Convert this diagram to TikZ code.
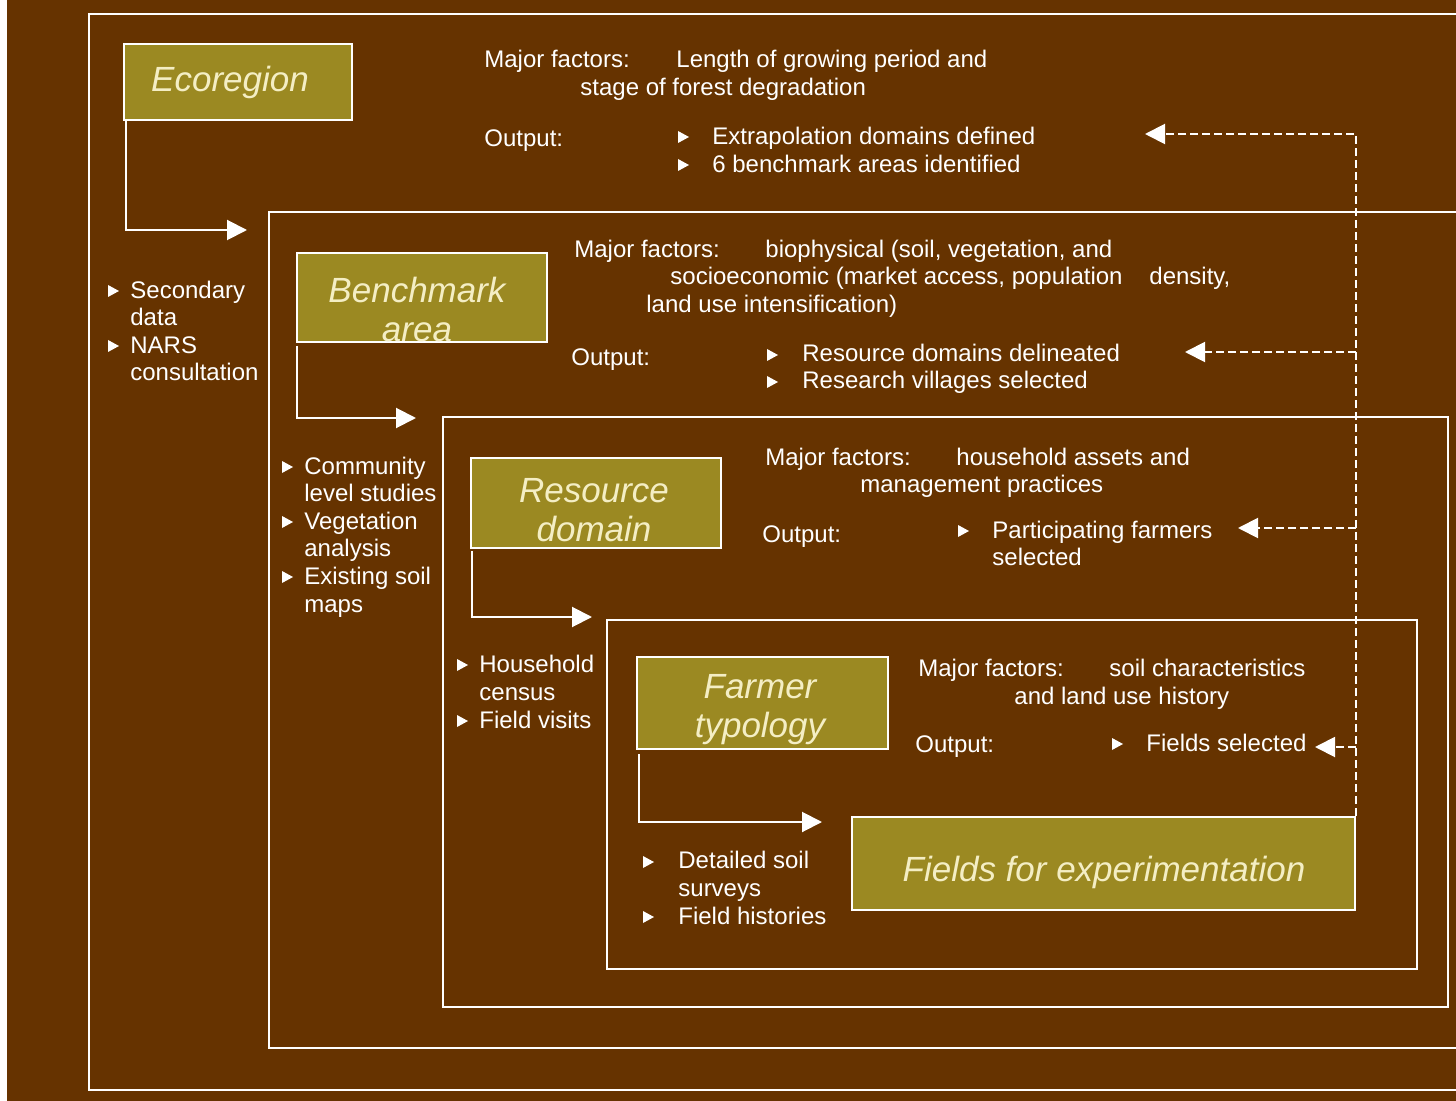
\documentclass[tikz,border=0pt]{standalone}
\usepackage{fontspec}
\setmainfont{Liberation Sans}
\usetikzlibrary{arrows.meta}
\definecolor{bgbrown}{RGB}{102,51,0}
\definecolor{olivebox}{RGB}{155,137,34}
\definecolor{cream}{RGB}{244,238,196}
\begin{document}
\begin{tikzpicture}[x=0.5pt,y=-0.5pt,
    frame/.style={draw=white, line width=1pt},
    stagebox/.style={draw=white, line width=1pt, fill=olivebox, inner sep=0pt},
    stagelabel/.style={text=cream, align=center, inner sep=0pt,
        font=\fontsize{17.5}{19.5}\selectfont\itshape},
    txt/.style={anchor=base west, text=white, inner sep=0pt,
        font=\fontsize{12}{14}\selectfont},
    flow/.style={draw=white, line width=1pt, -{Triangle[length=10pt,width=10pt]}},
    fback/.style={draw=white, line width=1pt, dash pattern=on 4pt off 2pt,
        -{Triangle[length=10pt,width=10pt]}},
    bul/.pic={\fill[white] (0,-6) -- (11,0) -- (0,6) -- cycle;}]

    % background and frames
    \useasboundingbox (0,0) rectangle (1456,1101);
    \fill[white] (0,0) rectangle (1456,1101);
    \fill[bgbrown] (7,0) rectangle (1456,1101);
    \draw[frame] (1456,14) -- (89,14) -- (89,1090) -- (1456,1090);
    \draw[frame] (1456,212) -- (269,212) -- (269,1048) -- (1456,1048);
    \draw[frame] (443,417) rectangle (1448,1007);
    \draw[frame] (607,620) rectangle (1417,969);

    % stage boxes
    \node[stagebox, minimum width=114pt, minimum height=38pt] (eco) at (238,82) {};
    \node[stagelabel] (ecotxt) at (230,82) {Ecoregion};
    \node[stagebox, minimum width=125pt, minimum height=44.5pt] (bench) at (422,297.5) {};
    \node[stagelabel] (benchtxt) at (417,309) {Benchmark\\area};
    \node[stagebox, minimum width=125pt, minimum height=45pt] (res) at (596,503) {};
    \node[stagelabel] (restxt) at (594,510) {Resource\\domain};
    \node[stagebox, minimum width=125.5pt, minimum height=46pt] (farmer) at (762.5,703) {};
    \node[stagelabel] (farmertxt) at (760,710) {Farmer\\typology};
    \node[stagebox, minimum width=251.5pt, minimum height=46.5pt] (fields) at (1103.5,863.5) {};
    \node[stagelabel] (fieldstxt) at (1104,872) {Fields for experimentation};

    % downward flow
    \coordinate (t1) at (247,230);
    \coordinate (t2) at (416,418);
    \coordinate (t3) at (592,617);
    \coordinate (t4) at (822,822);
    \draw[flow] ([xshift=1.5pt]eco.south west) |- (t1);
    \draw[flow] ([xshift=0.5pt,yshift=-1.5pt]bench.south west) |- (t2);
    \draw[flow] ([xshift=1pt,yshift=-1pt]res.south west) |- (t3);
    \draw[flow] ([xshift=1.5pt,yshift=-2pt]farmer.south west) |- (t4);

    % feedback
    \coordinate (f1) at (1145,134);
    \coordinate (f2) at (1185,352);
    \coordinate (f3) at (1238,528);
    \coordinate (f4) at (1315,747);
    \draw[fback] (fields.north east) |- (f1);
    \foreach \f in {f2,f3,f4}
        \draw[fback] (fields.north east |- \f) -- (\f);

    % ecoregion
    \node[txt] (mf1) at (484,68) {Major factors:};
    \node[txt] at (676,68) {Length of growing period and};
    \node[txt] at (580,96) {stage of forest degradation};
    \node[txt] (out1) at (484,147) {Output:};
    \pic at (678,137) {bul};
    \pic at (678,165) {bul};
    \node[txt] at (712,145) {Extrapolation domains defined};
    \node[txt] at (712,173) {6 benchmark areas identified};

    % benchmark area
    \node[txt] (mf2) at (574,258) {Major factors:};
    \node[txt] at (765,258) {biophysical (soil, vegetation, and};
    \node[txt] at (670,285) {socioeconomic (market access, population};
    \node[txt] at (1149,285) {density,};
    \node[txt] at (646,313) {land use intensification)};
    \node[txt] (out2) at (571,366) {Output:};
    \pic at (767,355) {bul};
    \pic at (767,382) {bul};
    \node[txt] at (802,362) {Resource domains delineated};
    \node[txt] at (802,389) {Research villages selected};

    % resource domain
    \node[txt] (mf3) at (765,466) {Major factors:};
    \node[txt] at (956,466) {household assets and};
    \node[txt] at (860,493) {management practices};
    \node[txt] (out3) at (762,542) {Output:};
    \pic at (958,531) {bul};
    \node[txt] at (992,538) {Participating farmers};
    \node[txt] at (992,565) {selected};

    % farmer typology
    \node[txt] (mf4) at (918,676) {Major factors:};
    \node[txt] at (1109,676) {soil characteristics};
    \node[txt] at (1014,704) {and land use history};
    \node[txt] (out4) at (915,752) {Output:};
    \pic at (1112,744) {bul};
    \node[txt] at (1146,751) {Fields selected};

    % methods columns
    \foreach \y in {291,346} \pic at (108,\y) {bul};
    \foreach \t [count=\i] in {Secondary,data,NARS,consultation}
        \node[txt] at (130,{270.5+27.6*\i}) {\t};
    \foreach \y in {467,522,577} \pic at (282,\y) {bul};
    \foreach \t [count=\i] in {Community,level studies,Vegetation,analysis,Existing soil,maps}
        \node[txt] at (304,{446.5+27.6*\i}) {\t};
    \foreach \y in {665,721} \pic at (457,\y) {bul};
    \foreach \t [count=\i] in {Household,census,Field visits}
        \node[txt] at (479,{644+28*\i}) {\t};
    \foreach \y in {862,917} \pic at (643,\y) {bul};
    \foreach \t [count=\i] in {Detailed soil,surveys,Field histories}
        \node[txt] at (678,{840+28*\i}) {\t};
\end{tikzpicture}
\end{document}
